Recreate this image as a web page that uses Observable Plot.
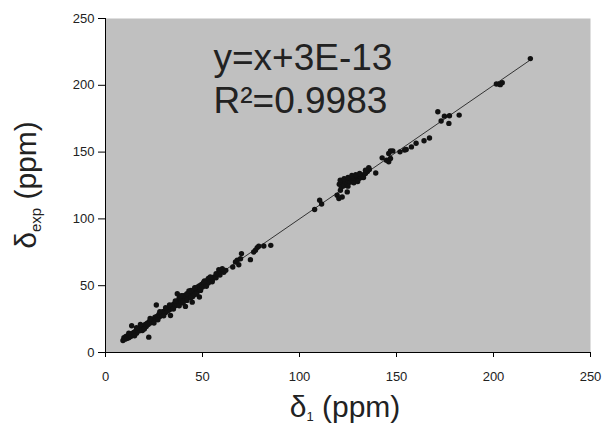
<!DOCTYPE html>
<html>
<head>
<meta charset="utf-8">
<script src="https://cdn.jsdelivr.net/npm/d3@7"></script>
<script src="https://cdn.jsdelivr.net/npm/@observablehq/plot@0.6"></script>
<style>
  html, body { margin: 0; padding: 0; background: #ffffff; }
  #chart { width: 602px; height: 426px; }
</style>
</head>
<body>
<div id="chart"></div>
<script>
// Calculated shift δ1 (ppm)
const calcX = [
  9,9.5,10,10.5,11,11.5,12,12.5,13,13.5,14,14.5,15,15.5,16,16.5,17,17.5,18,18.5,19,19.5,20,20.5,21,21.5,22,22.5,23,23.5,
  24,24.5,25,25.5,26,26.5,27,27.5,28,28.5,29,29.5,30,30.5,31,31.5,32,32.5,33,33.5,34,34.5,35,35.5,36,36.5,37,37.5,38,38.5,
  39,39.5,40,40.5,41,41.5,42,42.5,43,43.5,44,44.5,45,45.5,46,46.5,47,47.5,48,48.5,49,49.5,50,50.5,51,51.5,52,52.5,53,54,
  55,56,57,58,59,60,61,62,
  12,15,16,18,19,20,23,25,27,28,30,31,33,35,36,38,40,42,44,45,46,47,49,51,52,53,54,55,57,
  13.5,22.3,26.2,33.5,41.2,44.7,48.4,37,50.7,38,40,42,44,46,39,43,47,
  58.4,60.2,65.6,68.7,67,67.9,69.6,70.1,74.7,76.4,77.3,78.2,79,81.6,85.2,
  107.8,110.4,111.4,119.4,120.3,121.1,122,124.6,
  120.5,121.5,122,123,123.5,124.5,125,126,126.5,127.5,128,129,129.5,130.5,131,132,133,134,135,135.7,139.3,
  121,123,125,127,129,131,125,128,130,133,136,134,
  142.6,144.8,146,146,146.9,148.1,146.9,151.8,154.2,155,157.7,160.1,164.2,167,
  171.3,173,174.7,177.3,177,182.3,201.5,203,204.5,203.5,219
];
// Experimental shift δexp (ppm)
const expY = [
  9,11,10,12,10.5,12.5,11,13,12,14,13,15,14,16,14.5,17,16,18,16.5,19,18,20,18.5,21,19.5,22,21,23,22,24.5,
  23,25,24,26.5,25,27,26,28.5,27,29,28,30.5,29,31,30,32.5,31,33,32,34.5,33,35.5,34,36.5,35,37.5,36,39,37,40,
  38,41,39,42,40,43,41,43.5,42,45,43,46,44,46.5,45,48,46,49,47,50,48,51,49,52,50.5,53,51,54,52,54.5,
  54,56.5,56,58.5,58,60.5,60,61.5,
  14.5,12.5,18.5,21,16.5,17.5,25.5,22,24.5,30.5,27.5,33.5,35.5,32.5,38.5,35,42.5,39,46.5,42,48.5,44.5,46.5,53.5,49.5,55.5,56.5,53,59,
  20,11.5,35.5,27.7,34.5,37.7,41.5,44,52.7,41,37,44,41,43.5,42.5,46,44,
  62,62.7,64,65.7,67.7,69,70.2,74,69.5,75.2,76.5,78.5,79.5,79.7,80.2,
  107,114,111.2,117.7,115.2,121.4,116.4,120.2,
  126,124,127.5,125,128,126.5,129,127.5,130,128,130.5,129,131.5,130,132,131,133,134,135.5,138.4,134.4,
  129,130,131,132.5,133,134,124.5,127,128,131,137,136.5,
  145.7,143.9,142.7,149,150.9,150.9,145.2,150.2,151.6,152,153.9,156.6,158.5,160.6,
  180.2,173.3,176.9,177.2,171.5,177.7,201,201,202,200.5,220
];
// Trend line y = x + 3E-13 over the data range
const fitX = [9, 219];
const fitIntercept = 3e-13;
const xTicks = [0, 50, 100, 150, 200, 250];
const yTicks = [0, 50, 100, 150, 200, 250];
const eqLine1 = "y=x+3E-13";
const eqLine2 = "R\u00B2=0.9983";

const points = calcX.map((x, i) => ({x, y: expY[i]}));
const fit = fitX.map(x => ({x, y: x + fitIntercept}));

const chart = Plot.plot({
  width: 602,
  height: 426,
  marginLeft: 105,
  marginRight: 12,
  marginTop: 18,
  marginBottom: 74,
  style: {fontFamily: "'Liberation Sans', Arial, sans-serif", fontSize: "13px", color: "#222", background: "#ffffff"},
  x: {domain: [0, 250]},
  y: {domain: [0, 250]},
  marks: [
    Plot.frame({fill: "#c0c0c0", stroke: "none"}),
    Plot.axisX(xTicks, {tickSize: 5, tickPadding: 14, label: null, stroke: "#000"}),
    Plot.axisY(yTicks, {tickSize: 7, tickPadding: 4, label: null, stroke: "#000"}),
    Plot.ruleX([0], {stroke: "#000"}),
    Plot.ruleY([0], {stroke: "#000"}),
    Plot.line(fit, {x: "x", y: "y", stroke: "#333", strokeWidth: 1}),
    Plot.dot(points, {x: "x", y: "y", r: 2.7, fill: "#111", stroke: "none"}),
    Plot.text([eqLine1], {text: d => d, frameAnchor: "top-left", lineAnchor: "top", textAnchor: "start", dx: 108, dy: 25, fontSize: 37, fill: "#222"}),
    Plot.text([eqLine2], {text: d => d, frameAnchor: "top-left", lineAnchor: "top", textAnchor: "start", dx: 108, dy: 68, fontSize: 37, fill: "#222"})
  ]
});

document.getElementById("chart").appendChild(chart);

// Axis titles with subscripts
const svg = d3.select(chart);
const yTitle = svg.append("text")
  .attr("transform", "translate(36,185) rotate(-90)")
  .attr("text-anchor", "middle")
  .attr("font-family", "'Liberation Sans', Arial, sans-serif")
  .attr("font-size", 30)
  .attr("fill", "#222");
yTitle.append("tspan").text("\u03B4");
yTitle.append("tspan").attr("font-size", 15).attr("dy", 5).text("exp");
yTitle.append("tspan").attr("dy", -5).text(" (ppm)");

const xTitle = svg.append("text")
  .attr("x", 345)
  .attr("y", 417)
  .attr("text-anchor", "middle")
  .attr("font-family", "'Liberation Sans', Arial, sans-serif")
  .attr("font-size", 30)
  .attr("fill", "#222");
xTitle.append("tspan").text("\u03B4");
xTitle.append("tspan").attr("font-size", 13).attr("dy", 4).text("1");
xTitle.append("tspan").attr("dy", -4).text(" (ppm)");
</script>
</body>
</html>
